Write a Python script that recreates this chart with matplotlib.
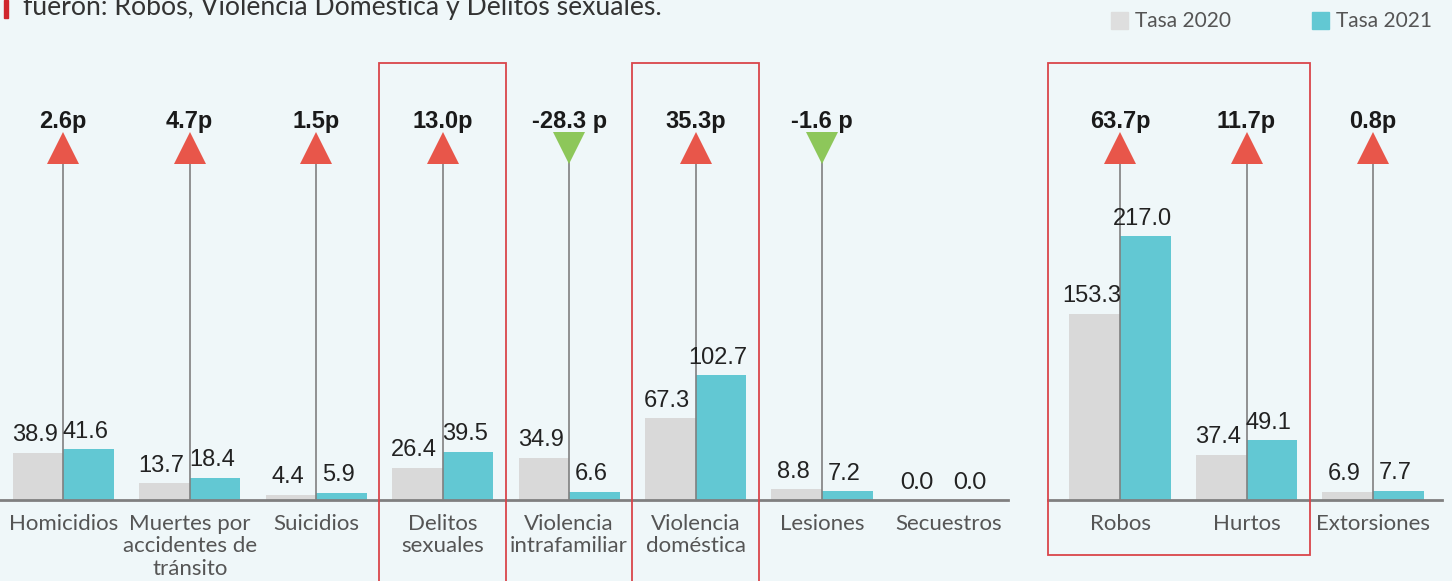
import matplotlib
matplotlib.use("Agg")
import matplotlib.pyplot as plt
from matplotlib.patches import Rectangle

# ---- data ----
cats_left = ["Homicidios", "Muertes por\naccidentes de\ntránsito", "Suicidios", "Delitos\nsexuales",
             "Violencia\nintrafamiliar", "Violencia\ndoméstica", "Lesiones", "Secuestros"]
tasa2020_left = [38.9, 13.7, 4.4, 26.4, 34.9, 67.3, 8.8, 0.0]
tasa2021_left = [41.6, 18.4, 5.9, 39.5, 6.6, 102.7, 7.2, 0.0]
change_left = ["2.6p", "4.7p", "1.5p", "13.0p", "-28.3 p", "35.3p", "-1.6 p", None]
up_left = [True, True, True, True, False, True, False, None]

cats_right = ["Robos", "Hurtos", "Extorsiones"]
tasa2020_right = [153.3, 37.4, 6.9]
tasa2021_right = [217.0, 49.1, 7.7]
change_right = ["63.7p", "11.7p", "0.8p"]
up_right = [True, True, True]

highlight_left = [3, 5]
highlight_right = [(0, 1)]

title_text = "fueron: Robos, Violencia Doméstica y Delitos sexuales."

# ---- style ----
BG = "#EFF7F9"
C20 = "#D9D9D9"
C21 = "#62C8D3"
RED = "#E8564A"
GREEN = "#8DC75A"
BOX = "#D9454A"
W, H = 1452, 581
fig = plt.figure(figsize=(W / 100, H / 100), dpi=100)
fig.patch.set_facecolor(BG)

PXU = 1.215  # px per unit
base_px = 500
ytop = base_px / PXU
slot = 126.5


def make_ax(x0, x1, xlim):
    ax = fig.add_axes([x0 / W, (H - base_px) / H, (x1 - x0) / W, base_px / H])
    ax.set_facecolor("none")
    ax.set_xlim(*xlim)
    ax.set_ylim(0, ytop)
    for s in ["top", "right", "left"]:
        ax.spines[s].set_visible(False)
    ax.spines["bottom"].set_color("#808080")
    ax.spines["bottom"].set_linewidth(2)
    ax.set_yticks([])
    ax.tick_params(axis="x", length=0, pad=10)
    return ax


def y_of(px):
    return (base_px - px) / PXU


def draw(ax, cats, v20, v21, chg, ups):
    xs = list(range(len(cats)))
    bw = 0.4
    ax.bar([x - bw / 2 for x in xs], v20, width=bw, color=C20, zorder=2)
    ax.bar([x + bw / 2 for x in xs], v21, width=bw, color=C21, zorder=2)
    for x, a, b, c, u in zip(xs, v20, v21, chg, ups):
        if a == 0 and b == 0:
            for dx, v in ((-0.25, a), (0.17, b)):
                ax.text(x + dx, v + 6, f"{v:.1f}", ha="center", va="bottom",
                        fontsize=17, family=["Liberation Sans Narrow", "Lato"],
                        color="#222222", zorder=5)
            continue
        ax.text(x - bw / 2 - 0.025, a + 5.5, f"{a:.1f}", ha="center", va="bottom",
                fontsize=17, family="Liberation Sans", color="#222222", zorder=5)
        ax.text(x + bw / 2 - 0.025, b + 5.5, f"{b:.1f}", ha="center", va="bottom",
                fontsize=17, family="Liberation Sans", color="#222222", zorder=5)
        if c is not None:
            ax.plot([x, x], [0, y_of(152)], color="#808080", lw=1.2, zorder=3)
            ax.plot([x], [y_of(148)], marker="^" if u else "v", markersize=23,
                    color=RED if u else GREEN, markeredgewidth=0, zorder=4)
            ax.text(x, y_of(121), c, ha="center", va="center", fontsize=17,
                    fontweight="bold", family="Liberation Sans", color="#1a1a1a")
    ax.set_xticks(xs)
    ax.set_xticklabels(cats, fontsize=16, family="Lato", color="#555555",
                       linespacing=1.15, va="top")


ax1 = make_ax(0, 1008, (-0.5, 7.47))
draw(ax1, cats_left, tasa2020_left, tasa2021_left, change_left, up_left)
for i in highlight_left:
    ax1.add_patch(Rectangle((i - 0.5, y_of(600)), 1.0, y_of(63) - y_of(600), fill=False,
                            edgecolor=BOX, lw=1.3, clip_on=False, zorder=6))

ax2 = make_ax(1048, 1442, (-72 / slot, 2 + 69 / slot))
draw(ax2, cats_right, tasa2020_right, tasa2021_right, change_right, up_right)
for a, b in highlight_right:
    x0 = -72 / slot
    ax2.add_patch(Rectangle((x0, y_of(555)), (b + 0.5) - x0, y_of(63) - y_of(555), fill=False,
                            edgecolor=BOX, lw=1.3, clip_on=False, zorder=6))

# title fragment (cut at the top edge, as in the reference)
fig.patches.append(Rectangle((4 / W, 1 - 18 / H), 4 / W, 18 / H, transform=fig.transFigure,
                             color="#D0262D"))
fig.text(23 / W, 1 - 15 / H, title_text, fontsize=19.2, family="Lato", color="#333333",
         va="baseline", ha="left")

# legend
fig.patches.append(Rectangle((1111 / W, 1 - 29 / H), 17 / W, 17 / H, transform=fig.transFigure,
                             color="#DEDEDE"))
fig.text(1135 / W, 1 - 21 / H, "Tasa 2020", fontsize=15, family="Lato", color="#555555",
         va="center")
fig.patches.append(Rectangle((1312 / W, 1 - 29 / H), 17 / W, 17 / H, transform=fig.transFigure,
                             color=C21))
fig.text(1336 / W, 1 - 21 / H, "Tasa 2021", fontsize=15, family="Lato", color="#555555",
         va="center")

fig.savefig("out.png", dpi=100, facecolor=BG)
